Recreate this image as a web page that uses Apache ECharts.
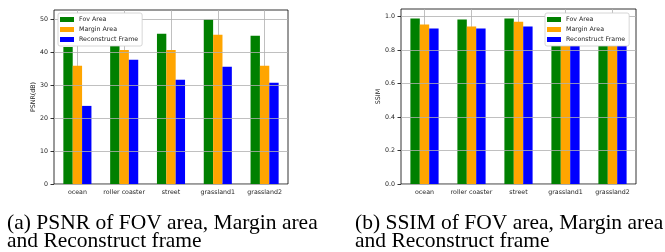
<!DOCTYPE html>
<html>
<head>
<meta charset="utf-8">
<script src="https://cdn.jsdelivr.net/npm/echarts@6/dist/echarts.min.js"></script>
<style>
  html, body { margin: 0; padding: 0; background: #fff; }
  #chart { width: 665px; height: 252px; }
</style>
</head>
<body>
<div id="chart"></div>
<script>
// data
const scenes = ['ocean', 'roller coaster', 'street', 'grassland1', 'grassland2']
const seriesNames = ['Fov Area', 'Margin Area', 'Reconstruct Frame']
const psnrFov = [41.6, 42.3, 45.6, 49.9, 45.0]
const psnrMargin = [35.9, 40.7, 40.7, 45.3, 35.9]
const psnrRecon = [23.7, 37.7, 31.6, 35.6, 30.7]
const ssimFov = [0.987, 0.981, 0.987, 0.988, 0.985]
const ssimMargin = [0.951, 0.939, 0.968, 0.972, 0.958]
const ssimRecon = [0.927, 0.927, 0.939, 0.948, 0.936]
const colors = ['#008000', '#ffa500', '#0000ff']

const sans = 'DejaVu Sans'
const fs = 6.3
const gridColor = '#b0b0b0'

function xAxisFor(idx) {
  return {
    type: 'category',
    gridIndex: idx,
    data: scenes,
    axisLine: { show: false },
    axisTick: { alignWithLabel: true, length: 3.5, lineStyle: { color: '#000', width: 0.8 } },
    axisLabel: { fontFamily: sans, fontSize: fs, color: '#222', margin: 5, interval: 0 },
    splitLine: { show: true, alignWithLabel: true, lineStyle: { color: gridColor, width: 0.8 } }
  }
}

function yAxisFor(idx, max, interval, name, gap, digits) {
  return {
    type: 'value',
    gridIndex: idx,
    min: 0,
    max: max,
    interval: interval,
    z: 5,
    name: name,
    nameLocation: 'middle',
    nameGap: gap,
    nameTextStyle: { fontFamily: sans, fontSize: fs, color: '#222' },
    axisLine: { show: false },
    axisTick: { show: true, length: 3.5, lineStyle: { color: '#000', width: 0.8 } },
    axisLabel: {
      fontFamily: sans, fontSize: fs, color: '#222', margin: 6, showMaxLabel: false,
      formatter: v => v.toFixed(digits)
    },
    splitLine: { show: true, showMaxLine: false, lineStyle: { color: gridColor, width: 0.8 } }
  }
}

function legendFor(left) {
  return {
    left: left,
    top: 13,
    z: 10,
    orient: 'vertical',
    data: seriesNames,
    icon: 'rect',
    itemWidth: 14,
    itemHeight: 5,
    itemGap: 3,
    padding: [3, 4, 3, 2],
    backgroundColor: '#ffffff',
    borderColor: '#cccccc',
    borderWidth: 0.8,
    borderRadius: 2,
    textStyle: { fontFamily: sans, fontSize: fs, color: '#222', lineHeight: 7 }
  }
}

function bars(idx, values) {
  return values.map((vals, i) => ({
    name: seriesNames[i],
    type: 'bar',
    xAxisIndex: idx,
    yAxisIndex: idx,
    data: vals,
    barGap: '0%',
    barCategoryGap: '40%',
    itemStyle: { color: colors[i] }
  }))
}

const chart = echarts.init(document.getElementById('chart'), null, { renderer: 'canvas' })
chart.setOption({
  animation: false,
  backgroundColor: '#fff',
  title: [{
    text: '(a) PSNR of FOV area, Margin area\nand Reconstruct frame',
    left: 7,
    top: 214,
    padding: 0,
    textStyle: { fontFamily: 'Liberation Serif', fontSize: 21.5, fontWeight: 'normal', color: '#000', lineHeight: 18 }
  }, {
    text: '(b) SSIM of FOV area, Margin area\nand Reconstruct frame',
    left: 355,
    top: 214,
    padding: 0,
    textStyle: { fontFamily: 'Liberation Serif', fontSize: 21.5, fontWeight: 'normal', color: '#000', lineHeight: 18 }
  }],
  legend: [legendFor(58), legendFor(545)],
  grid: [
    { left: 54, top: 10, width: 234, height: 174, show: true, borderColor: '#000', borderWidth: 0.8, containLabel: false },
    { left: 401, top: 9, width: 235, height: 175, show: true, borderColor: '#000', borderWidth: 0.8, containLabel: false }
  ],
  xAxis: [xAxisFor(0), xAxisFor(1)],
  yAxis: [
    yAxisFor(0, 52.8, 10, 'PSNR(dB)', 14, 0),
    yAxisFor(1, 1.044, 0.2, 'SSIM', 18, 1)
  ],
  series: [
    ...bars(0, [psnrFov, psnrMargin, psnrRecon]),
    ...bars(1, [ssimFov, ssimMargin, ssimRecon])
  ]
})
</script>
</body>
</html>
